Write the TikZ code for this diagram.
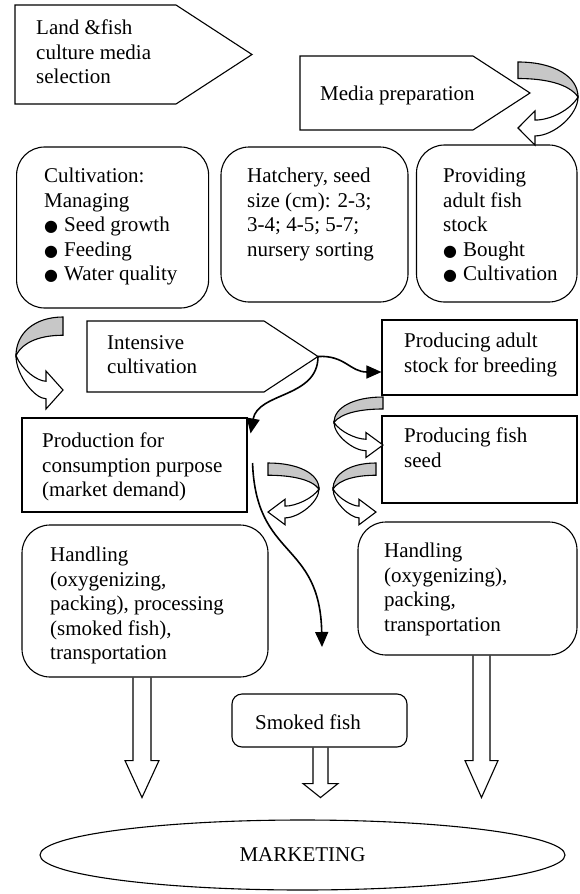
\documentclass[tikz,border=0pt]{standalone}
\usepackage{fontspec}
\setmainfont{Liberation Serif}
\newfontfamily\symfont{DejaVu Sans}
\usepackage{tikz}
\usetikzlibrary{shapes.geometric}
\usetikzlibrary{arrows.meta}
\usetikzlibrary{calc}
\newcommand{\fishbul}{\makebox[20pt][l]{\raisebox{0pt}{\symfont\fontsize{16}{16}\selectfont ●}}}

\begin{document}
\begin{tikzpicture}[
        x=1pt, y=-1pt,
        font=\fontsize{21}{24.5}\selectfont,
        lineS/.style={line width=1.1pt},
        boxS/.style={
            lineS,
            draw=black,
            rectangle,
            inner sep=0pt
        },
        roundS/.style={
            boxS,
            rounded corners=28pt
        },
        textS/.style={
            align=left,
            anchor=north west,
            inner sep=0pt,
            execute at begin node=\strut
        },
        pentS/.style={lineS, draw=black},
        curveS/.style={
            line width=1.6pt,
            -{Triangle[length=15pt,width=13pt]}
        },
        hollowS/.style={lineS},
        pics/uturn/.style 2 args={
            code={
                \draw[lineS, fill=black!22] (0,0) .. controls ({-0.6*#1},0) and ({-#1},{0.22*#2}) .. ({-#1},{0.53*#2})
                    .. controls ({-0.85*#1},{0.33*#2}) and ({-0.45*#1},{0.25*#2}) .. (0,{0.25*#2}) -- cycle;
                \draw[lineS, fill=white] ({-#1},{0.53*#2}) .. controls ({-#1},{0.8*#2}) and ({-0.6*#1},{1.12*#2}) .. (-17,{1.12*#2})
                    -- (-17,{1.26*#2}) -- (0,{#2}) -- (-17,{0.74*#2}) -- (-17,{0.88*#2})
                    .. controls ({-0.55*#1},{0.88*#2}) and ({-0.88*#1},{0.72*#2}) .. ({-#1},{0.53*#2}) -- cycle;
            }
        },
    ]
    \useasboundingbox (0,0) rectangle (579,894);

    % pointed boxes
    \draw[pentS] (15,5) -- (176,5) -- (252,54.5) -- (176,104) -- (15,104) -- cycle;
    \node[textS] (land) at (36,20) {Land \&fish\\culture media\\selection};
    \draw[pentS] (300,56) -- (473,56) -- (530,93) -- (473,130) -- (300,130) -- cycle;
    \node[textS] (media) at (320,83.5) {Media preparation};
    \coordinate (intTip) at (318,356.5);
    \draw[pentS] (87,321) -- (264,321) -- (intTip) -- (264,392) -- (87,392) -- cycle;
    \node[textS] (intens) at (107,335) {Intensive\\cultivation};

    % boxes
    \node[roundS, minimum width=192pt, minimum height=161pt] (cultBox) at (112.6,227.5) {};
    \node[textS] (cult) at (44,168) {Cultivation:\\Managing\\\fishbul Seed growth\\\fishbul Feeding\\\fishbul Water quality};
    \node[roundS, minimum width=187pt, minimum height=155pt] (hatchBox) at (314.5,224.5) {};
    \node[textS] (hatch) at (247,168) {Hatchery, seed\\size (cm): 2-3;\\3-4; 4-5; 5-7;\\nursery sorting};
    \node[roundS, minimum width=160.5pt, minimum height=157pt] (provBox) at (496.75,223.5) {};
    \node[textS] (prov) at (443,168) {Providing\\adult fish\\stock\\\fishbul Bought\\\fishbul Cultivation};

    \node[boxS, minimum width=195pt, minimum height=75pt] (adultBox) at (479.5,357.5) {};
    \node[textS] (adult) at (404,333) {Producing adult\\stock for breeding};
    \node[boxS, minimum width=225pt, minimum height=94pt] (prodBox) at (134.5,465) {};
    \node[textS] (prodcons) at (42,433) {Production for\\consumption purpose\\(market demand)};
    \node[boxS, minimum width=195pt, minimum height=87pt] (seedBox) at (479.5,459.5) {};
    \node[textS] (seed) at (404,428) {Producing fish\\seed};

    \node[roundS, minimum width=246pt, minimum height=152pt] (handLBox) at (145,601) {};
    \node[textS] (handL) at (50,547) {Handling\\(oxygenizing,\\packing), processing\\(smoked fish),\\transportation};
    \node[roundS, minimum width=219pt, minimum height=133pt] (handRBox) at (467.5,588.5) {};
    \node[textS] (handR) at (384,543) {Handling\\(oxygenizing),\\packing,\\transportation};
    \node[boxS, rounded corners=10pt, minimum width=175pt, minimum height=53pt] (smokedBox) at (319.5,720.5) {};
    \node[textS] (smoked) at (255,712) {Smoked fish};

    \node[boxS, ellipse, minimum width=525pt, minimum height=70pt] (market) at (302.5,855) {MARKETING};

    % turning arrows
    \pic[xscale=-1] at (518,62) {uturn={60}{66}};
    \pic at (63,317) {uturn={47}{73}};
    \pic at (383,397) {uturn={49}{48}};
    \pic[xscale=-1] at (268,463) {uturn={51}{49}};
    \pic at (376,463) {uturn={43}{49}};

    % connectors
    \coordinate (smokeArr) at (322,647);
    \draw[curveS] (intTip) .. controls (345,355) and (350,372) .. ($(adultBox.west)+(0,14.5)$);
    \draw[curveS] (intTip) .. controls (318,398) and (258,392) .. ($(prodBox.north east)+(3,16)$);
    \draw[curveS] ($(prodBox.east)+(5,-2)$) .. controls (256,560) and (320,540) .. (smokeArr);

    \draw[hollowS] ($(handLBox.south)+(-12,0)$) -- ++(0,83) -- ++(-8,0) -- ++(17,37) -- ++(17,-37) -- ++(-8,0) -- ++(0,-83);
    \draw[hollowS] ($(handRBox.south)+(5.5,0)$) -- ++(0,105) -- ++(-8,0) -- ++(16.5,37) -- ++(16.5,-37) -- ++(-8,0) -- ++(0,-105);
    \draw[hollowS] ($(smokedBox.south)+(-6.5,0)$) -- ++(0,36) -- ++(-10,0) -- ++(17.5,14) -- ++(17.5,-14) -- ++(-10,0) -- ++(0,-36);
\end{tikzpicture}
\end{document}
